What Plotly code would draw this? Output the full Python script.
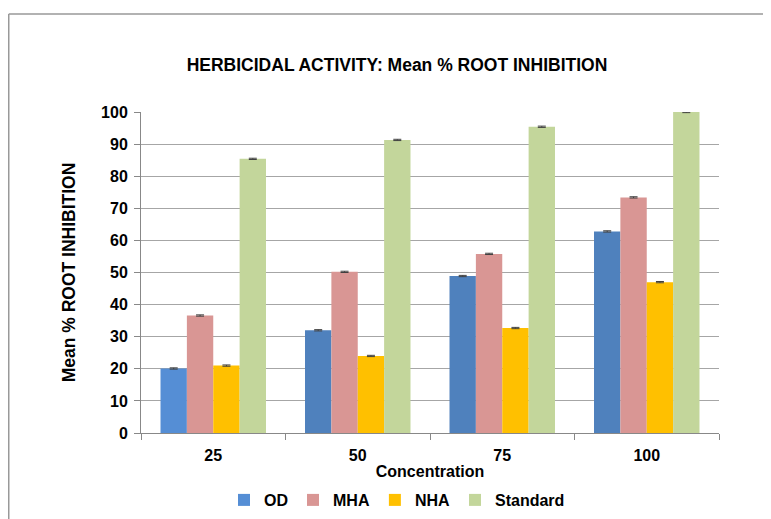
import plotly.graph_objects as go

categories = ["25", "50", "75", "100"]
od = [20.1, 32.0, 48.9, 62.8]
mha = [36.6, 50.2, 55.8, 73.4]
nha = [21.0, 24.0, 32.7, 47.0]
standard = [85.4, 91.3, 95.4, 100.0]
err = [0.2, 0.2, 0.2, 0.2]

series = [
    ("OD", od, ["#558ED5", "#4F81BD", "#4F81BD", "#4F81BD"]),
    ("MHA", mha, "#D99694"),
    ("NHA", nha, "#FFC000"),
    ("Standard", standard, "#C3D69B"),
]

fig = go.Figure()
for name, vals, col in series:
    fig.add_trace(go.Bar(
        name=name, x=categories, y=vals,
        marker=dict(color=col, line=dict(width=0)),
        error_y=dict(type="data", array=err, visible=True, color="#404040", thickness=1, width=4),
    ))

W, H = 771, 519
OFF = 8  # page body offset
font_fam = "Liberation Sans, Arial, sans-serif"
L, T = 141 - OFF, 112 - OFF
R = W - (719 - OFF)
B = H - (433 - OFF)
pw, ph = W - L - R, H - T - B

fig.update_layout(
    width=W, height=H,
    barmode="group", bargap=0.27, bargroupgap=0,
    plot_bgcolor="white", paper_bgcolor="white",
    margin=dict(l=L, r=R, t=T, b=B, autoexpand=False),
    font=dict(family=font_fam, color="#000000"),
    title=dict(text="<b>HERBICIDAL ACTIVITY: Mean % ROOT INHIBITION</b>",
               x=(397 - OFF) / W, xanchor="center", xref="container",
               y=1 - (65 - OFF) / H, yanchor="middle", yref="container",
               font=dict(size=17.5, family=font_fam, color="#000000")),
    showlegend=True,
    legend=dict(orientation="h", x=(397 - OFF) / W, xanchor="center", xref="container",
                y=1 - (500 - OFF) / H, yanchor="middle", yref="container",
                font=dict(size=16, family=font_fam, color="#000000", weight="bold"),
                itemwidth=30, traceorder="normal"),
    xaxis=dict(
        type="category", showline=True, linecolor="#888888", linewidth=1,
        ticks="outside", tickson="boundaries", ticklen=6, tickcolor="#888888",
        ticklabelstandoff=8,
        tickfont=dict(size=16, family=font_fam, color="#000000", weight="bold"),
        title=dict(text="<b>Concentration</b>", font=dict(size=16, family=font_fam), standoff=2),
        showgrid=False, automargin=False,
    ),
    yaxis=dict(
        range=[0, 100], dtick=10, showline=True, linecolor="#888888", linewidth=1,
        ticks="outside", ticklen=6, tickcolor="#888888",
        ticklabelstandoff=3,
        gridcolor="#A6A6A6", gridwidth=1,
        tickfont=dict(size=16, family=font_fam, color="#000000", weight="bold"),
        title=dict(text="<b>Mean % ROOT INHIBITION</b>", font=dict(size=17.5, family=font_fam), standoff=20),
        zeroline=False, automargin=False,
    ),
    shapes=[
        dict(type="line", xref="paper", yref="paper",
             x0=(0.75 - L) / pw, x1=(W + 10 - L) / pw,
             y0=1 + (T - (14 - OFF)) / ph, y1=1 + (T - (14 - OFF)) / ph,
             line=dict(color="#999999", width=1.5)),
        dict(type="line", xref="paper", yref="paper",
             x0=(0.75 - L) / pw, x1=(0.75 - L) / pw,
             y0=1 + (T - (14 - OFF)) / ph, y1=-1,
             line=dict(color="#999999", width=1.5)),
    ],
)

fig.write_html("out.html")
